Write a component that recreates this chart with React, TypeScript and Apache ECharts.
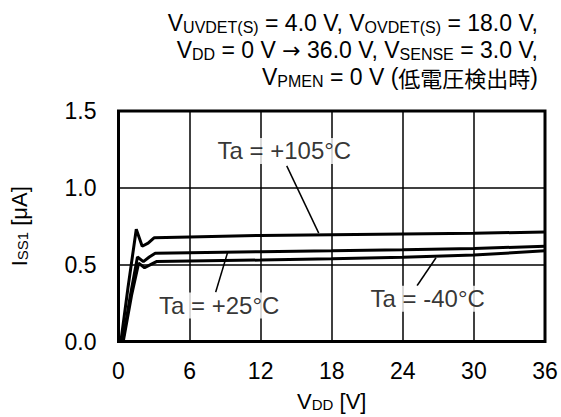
import React, { useEffect, useRef } from "react";
import * as echarts from "echarts";

const xTicks = [0, 6, 12, 18, 24, 30, 36];
const yTicks = [0, 0.5, 1.0, 1.5];

const ta105: number[][] = [
  [0.2, 0], [0.8, 0.35], [1.5, 0.73], [2.0, 0.62], [2.5, 0.64], [3.0, 0.675],
  [6, 0.68], [12, 0.69], [18, 0.695], [24, 0.7], [30, 0.705], [36, 0.712],
];
const ta25: number[][] = [
  [0.35, 0], [1.0, 0.3], [1.6, 0.55], [2.1, 0.52], [2.6, 0.55], [3.1, 0.575],
  [6, 0.578], [12, 0.584], [18, 0.59], [24, 0.597], [30, 0.605], [36, 0.62],
];
const taM40: number[][] = [
  [0.4, 0], [1.1, 0.3], [1.7, 0.51], [2.2, 0.48], [2.7, 0.5], [3.2, 0.52],
  [6, 0.524], [12, 0.53], [18, 0.538], [24, 0.548], [30, 0.563], [36, 0.59],
];

const labelNames = ["Ta = +105°C", "Ta = +25°C", "Ta = -40°C"];
const labelPos: number[][] = [[14.0, 1.24], [8.5, 0.235], [26.1, 0.278]];
const leaders: number[][][] = [
  [[14.2, 1.143], [16.9, 0.705]],
  [[8.2, 0.32], [9.2, 0.577]],
  [[25.2, 0.363], [26.8, 0.545]],
];

const FONT = "'Liberation Sans', Arial, sans-serif";

export default function App() {
  const ref = useRef<HTMLDivElement>(null);
  useEffect(() => {
    const chart = echarts.init(ref.current!, undefined, { renderer: "svg" });
    const main = { fontSize: 23, fontFamily: FONT, color: "#000", lineHeight: 27 };
    const sub = { fontSize: 16, fontFamily: FONT, color: "#000", lineHeight: 27, padding: [8, 0, 0, 0] };
    const arrow = { fontSize: 22, fontFamily: "'DejaVu Sans', sans-serif", color: "#000", lineHeight: 27 };
    const cjk = { fontSize: 22, fontFamily: "'Noto Sans CJK JP', sans-serif", color: "#000", lineHeight: 27 };
    const axMain = { fontSize: 22, fontFamily: FONT, color: "#000", lineHeight: 27 };
    const axSub = { fontSize: 15, fontFamily: FONT, color: "#000", lineHeight: 27, padding: [7, 0, 0, 0] };
    const titleLines = [
      "{m|V}{s|UVDET(S)}{m| = 4.0 V, V}{s|OVDET(S)}{m| = 18.0 V,}",
      "{m|V}{s|DD}{m| = 0 V }{a|→}{m| 36.0 V, V}{s|SENSE}{m| = 3.0 V,}",
      "{m|V}{s|PMEN}{m| = 0 V (}{c|低電圧検出時}{m|)}",
    ];
    const curves = [ta105, ta25, taM40];
    chart.setOption({
      animation: false,
      backgroundColor: "#fff",
      grid: {
        left: 115, right: 16, top: 111, bottom: 72,
        show: true, borderColor: "#000", borderWidth: 3, backgroundColor: "transparent",
      },
      graphic: titleLines.map((t, i) => ({
        type: "text",
        right: 23,
        top: 11 + i * 27,
        style: { text: t, rich: { m: main, s: sub, a: arrow, c: cjk }, align: "right" },
      })),
      xAxis: {
        type: "value", min: 0, max: 36, interval: 6,
        axisLine: { show: false }, axisTick: { show: false },
        splitLine: { show: true, lineStyle: { color: "#000", width: 1.5 } },
        axisLabel: {
          fontSize: 23, fontFamily: FONT, color: "#000", margin: 18,
          formatter: (v: number) => (xTicks.includes(v) ? String(v) : ""),
        },
        name: "{m|V}{s|DD}{m| [V]}",
        nameLocation: "middle", nameGap: 46,
        nameTextStyle: { rich: { m: axMain, s: axSub } },
      },
      yAxis: {
        type: "value", min: 0, max: 1.5, interval: 0.5,
        axisLine: { show: false }, axisTick: { show: false },
        splitLine: { show: true, lineStyle: { color: "#000", width: 1.5 } },
        axisLabel: {
          fontSize: 23, fontFamily: FONT, color: "#000", margin: 22,
          padding: [8, 0, 0, 0],
          formatter: (v: number) => (yTicks.includes(v) ? v.toFixed(1) : ""),
        },
        name: "{m|I}{s|SS1}{m| [μA]}",
        nameLocation: "middle", nameGap: 86, nameRotate: 90,
        nameTextStyle: { rich: { m: axMain, s: axSub } },
      },
      series: [
        ...curves.map((d) => ({
          type: "line", data: d, showSymbol: false, symbol: "none",
          lineStyle: { color: "#000", width: 3 }, z: 3,
        })),
        ...leaders.map((d) => ({
          type: "line", data: d, showSymbol: false, symbol: "none",
          lineStyle: { color: "#000", width: 1.5 }, z: 4,
        })),
        {
          type: "scatter", symbolSize: 0, z: 5,
          data: labelPos.map((p, i) => ({ value: p, name: labelNames[i] })),
          label: {
            show: true, position: "inside", formatter: (p: any) => p.name,
            fontSize: 24, fontFamily: FONT, color: "#000",
            backgroundColor: "#fff", padding: [1, 3],
          },
        },
      ],
    });
    return () => chart.dispose();
  }, []);
  return <div ref={ref} style={{ width: 561, height: 417, position: "absolute", left: 0, top: 0 }} />;
}
